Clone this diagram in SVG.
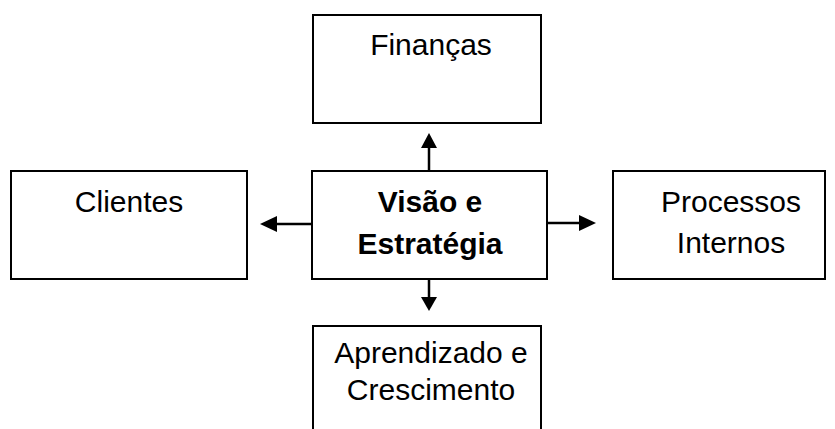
<svg xmlns="http://www.w3.org/2000/svg" width="835" height="429" viewBox="0 0 835 429">
<style>
.box{fill:#fff;stroke:#000;stroke-width:2}
.t{font-family:"Liberation Sans",Arial,sans-serif;font-size:30px;fill:#000;text-anchor:middle}
.b{font-weight:bold}
.c{stroke:#000;stroke-width:2.5;fill:none}
</style>
<defs>
<marker id="ah" markerWidth="6" markerHeight="6" refX="0" refY="3" orient="auto" markerUnits="userSpaceOnUse" viewBox="0 0 6 6"><path d="M0,0L6,3L0,6z" fill="#000"/></marker>
</defs>
<rect width="835" height="429" fill="#fff"/>
<g id="connectors">
<line class="c" x1="429" y1="172" x2="429" y2="148"/><path d="M421,148L429,133L437,148z"/>
<line class="c" x1="312" y1="224" x2="277" y2="224"/><path d="M277,216L260,224L277,232z"/>
<line class="c" x1="547" y1="223" x2="579" y2="223"/><path d="M579,215L596,223L579,231z"/>
<line class="c" x1="429" y1="279" x2="429" y2="297"/><path d="M421,297L429,311L437,297z"/>
</g>
<g id="financas"><rect class="box" x="313" y="15" width="228" height="108"/><text class="t" x="431" y="55">Finanças</text></g>
<g id="clientes"><rect class="box" x="11" y="171" width="236" height="108"/><text class="t" x="129" y="212">Clientes</text></g>
<g id="visao"><rect class="box" x="312" y="171" width="235" height="108"/><text class="t b" x="430" y="212">Visão e</text><text class="t b" x="430" y="254">Estratégia</text></g>
<g id="processos"><rect class="box" x="613" y="171" width="212" height="108"/><text class="t" x="731" y="212">Processos</text><text class="t" x="731" y="253">Internos</text></g>
<g id="aprendizado"><rect class="box" x="313" y="326" width="228" height="110"/><text class="t" x="431" y="363">Aprendizado e</text><text class="t" x="431" y="400">Crescimento</text></g>
</svg>
